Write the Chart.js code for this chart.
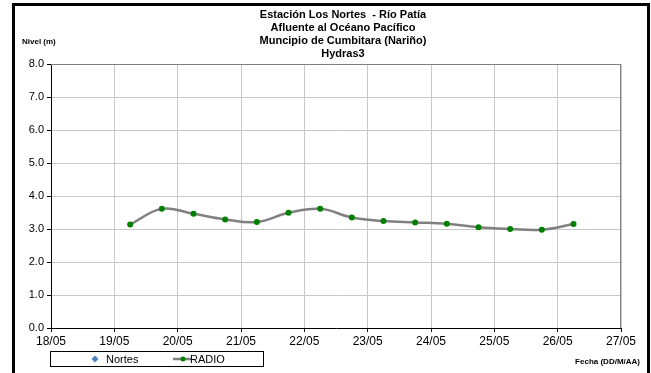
<!DOCTYPE html>
<html>
<head>
<meta charset="utf-8">
<script src="https://cdn.jsdelivr.net/npm/chart.js@4"></script>
<style>
  html, body { margin: 0; padding: 0; background: #fff; }
  #wrap { width: 651px; height: 373px; position: relative; }
</style>
</head>
<body>
<div id="wrap"><canvas id="c" width="651" height="373"></canvas></div>
<script>
// ---- Data ----
const titleLines = ['Estación Los Nortes  - Río Patía', 'Afluente al Océano Pacífico', 'Muncipio de Cumbitara (Nariño)', 'Hydras3'];
const yAxisTitle = 'Nivel (m)';
const xAxisTitle = 'Fecha (DD/M/AA)';
const xTickLabels = ['18/05', '19/05', '20/05', '21/05', '22/05', '23/05', '24/05', '25/05', '26/05', '27/05'];
const radioTimes = ['19/05 06:00', '19/05 18:00', '20/05 06:00', '20/05 18:00', '21/05 06:00', '21/05 18:00',
                    '22/05 06:00', '22/05 18:00', '23/05 06:00', '23/05 18:00', '24/05 06:00', '24/05 18:00',
                    '25/05 06:00', '25/05 18:00', '26/05 06:00'];
const radioValues = [3.14, 3.61, 3.46, 3.29, 3.21, 3.49, 3.61, 3.35, 3.24, 3.20, 3.16, 3.05, 3.00, 2.98, 3.15];
const nortesTimes = [];
const nortesValues = [];

// day offset from 18/05 00:00
function toX(s) {
  const [d, t] = s.split(' ');
  const day = parseInt(d.split('/')[0], 10);
  const [hh, mm] = t.split(':').map(Number);
  return (day - 18) + hh / 24 + mm / 1440;
}
const radioPts = radioTimes.map((t, i) => ({ x: toX(t), y: radioValues[i] }));
const nortesPts = nortesTimes.map((t, i) => ({ x: toX(t), y: nortesValues[i] }));

const FONT = '"Liberation Sans", Arial, sans-serif';

const decor = {
  id: 'decor',
  afterDraw(chart) {
    const ctx = chart.ctx;
    const a = chart.chartArea;
    ctx.save();
    // plot border top/right
    ctx.strokeStyle = '#808080';
    ctx.lineWidth = 1;
    ctx.beginPath();
    ctx.moveTo(a.left, a.top + 0.5);
    ctx.lineTo(a.right - 0.5, a.top + 0.5);
    ctx.lineTo(a.right - 0.5, a.bottom);
    ctx.stroke();

    // title
    ctx.fillStyle = '#000';
    ctx.textAlign = 'center';
    ctx.textBaseline = 'middle';
    ctx.font = 'bold 11px ' + FONT;
    titleLines.forEach((l, i) => ctx.fillText(l, 343, 15 + i * 13));

    // axis titles
    ctx.font = 'bold 8px ' + FONT;
    ctx.textAlign = 'left';
    ctx.fillText(yAxisTitle, 22, 42);
    ctx.textAlign = 'right';
    ctx.fillText(xAxisTitle, 640, 362);

    // legend
    ctx.fillStyle = '#fff';
    ctx.fillRect(50.5, 351.5, 213, 15);
    ctx.strokeStyle = '#000';
    ctx.lineWidth = 1;
    ctx.strokeRect(50.5, 351.5, 213, 15);
    // Nortes diamond
    ctx.fillStyle = '#4f81bd';
    ctx.beginPath();
    ctx.moveTo(95, 355.5); ctx.lineTo(98.5, 359); ctx.lineTo(95, 362.5); ctx.lineTo(91.5, 359);
    ctx.closePath(); ctx.fill();
    ctx.fillStyle = '#000';
    ctx.font = '11px ' + FONT;
    ctx.textAlign = 'left';
    ctx.fillText('Nortes', 106, 359.5);
    // RADIO
    ctx.strokeStyle = '#808080';
    ctx.lineWidth = 2.5;
    ctx.beginPath(); ctx.moveTo(173, 359); ctx.lineTo(191, 359); ctx.stroke();
    ctx.fillStyle = '#008000';
    ctx.beginPath(); ctx.arc(183, 359, 2.5, 0, Math.PI * 2); ctx.fill();
    ctx.fillStyle = '#000';
    ctx.fillText('RADIO', 190, 359.5);

    // outer border
    ctx.strokeStyle = '#000';
    ctx.lineWidth = 3;
    ctx.strokeRect(13.5, 4.5, 635, 372);
    ctx.restore();
  }
};

new Chart(document.getElementById('c'), {
  type: 'line',
  data: {
    datasets: [
      {
        label: 'Nortes',
        data: nortesPts,
        showLine: false,
        pointStyle: 'rectRot',
        pointRadius: 4,
        backgroundColor: '#4f81bd',
        borderColor: '#4f81bd'
      },
      {
        label: 'RADIO',
        data: radioPts,
        borderColor: '#808080',
        borderWidth: 2.5,
        tension: 0.4,
        pointRadius: 3,
        pointBackgroundColor: '#008000',
        pointBorderColor: '#008000',
        pointBorderWidth: 0,
        fill: false
      }
    ]
  },
  options: {
    responsive: false,
    animation: false,
    devicePixelRatio: 1,
    layout: { padding: { left: 0, right: 30, top: 64, bottom: 0 } },
    plugins: {
      legend: { display: false },
      title: { display: false },
      tooltip: { enabled: false }
    },
    scales: {
      x: {
        type: 'linear',
        min: 0,
        max: 9,
        afterFit(s) { s.height = 45; },
        afterBuildTicks(s) { s.ticks = xTickLabels.map((_, i) => ({ value: i })); },
        ticks: {
          stepSize: 1,
          color: '#000',
          font: { family: FONT, size: 12 },
          padding: 2,
          maxRotation: 0,
          autoSkip: false,
          callback: (v) => xTickLabels[Math.round(v)]
        },
        grid: { color: '#c8c8c8', lineWidth: 1, drawTicks: true, tickLength: 4, tickColor: '#000' },
        border: { color: '#000', width: 1 }
      },
      y: {
        min: 0,
        max: 8,
        afterFit(s) { s.width = 51; },
        ticks: {
          stepSize: 1,
          color: '#000',
          font: { family: FONT, size: 11 },
          padding: 3,
          callback: (v) => v.toFixed(1)
        },
        grid: { color: '#c8c8c8', lineWidth: 1, drawTicks: true, tickLength: 4, tickColor: '#000' },
        border: { color: '#000', width: 1 }
      }
    }
  },
  plugins: [decor]
});
</script>
</body>
</html>
